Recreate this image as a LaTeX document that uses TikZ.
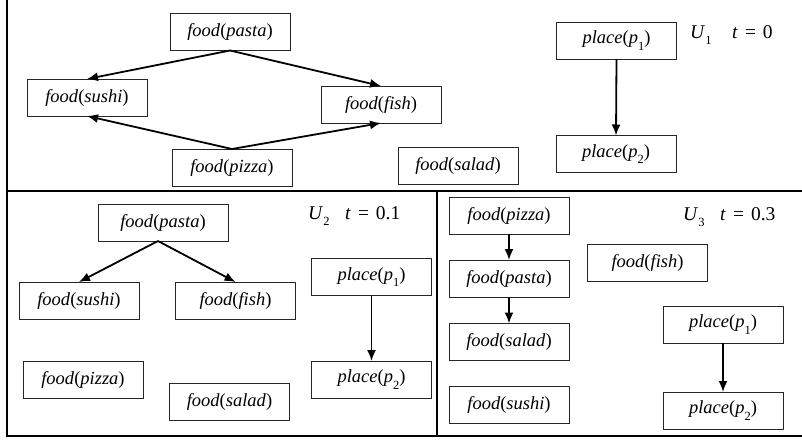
\documentclass[tikz,border=0pt]{standalone}
\usepackage{fontspec}
\setmainfont{Liberation Serif}
\usetikzlibrary{arrows.meta}
\newcommand\fd[1]{\textit{food}(\textit{#1})}
\newcommand\lowsub[1]{\raisebox{-0.75ex}{\fontsize{12.5}{12.5}\selectfont #1}}
\newcommand\pl[1]{\textit{place}(\textit{p}\lowsub{#1})}
\newcommand\tlab[1]{\textit{t}\hspace{7pt}=\hspace{7pt}#1}
\begin{document}
\begin{tikzpicture}[x=1pt,y=-1pt,
  box/.style={draw=black!85,line width=0.9pt,minimum height=37pt,inner sep=0pt,outer sep=0pt,
    font=\fontsize{18.5}{20}\selectfont},
  w120/.style={box,minimum width=120pt},
  w130/.style={box,minimum width=130pt},
  lab/.style={anchor=base west,inner sep=0pt,font=\fontsize{19.5}{21}\selectfont},
  arr/.style={line width=1.8pt,-{Latex[length=11pt,width=9pt]}},
  frame/.style={line width=2pt,black}]
\useasboundingbox (0,0) rectangle (802,442);
% frames
\draw[frame] (7,0) -- (7,436) -- (802,436);
\draw[frame] (7,191) -- (802,191);
\draw[frame] (437,191) -- (437,436);
% U1
\node[w120] (pa1) at (230,32) {\fd{pasta}};
\node[w120] (su1) at (87,97.5) {\fd{sushi}};
\node[w120] (fi1) at (381,104.5) {\fd{fish}};
\node[w120] (pz1) at (232,167.5) {\fd{pizza}};
\node[w120] (sa1) at (458,165.5) {\fd{salad}};
\node[w120] (p11) at (616.5,40.5) {\pl{1}};
\node[w120] (p21) at (616,154) {\pl{2}};
\node[lab] (u1) at (690,38) {\textit{U}\lowsub{1}};
\node[lab] (t1) at (732,38) {\tlab{0}};
\draw[arr] (pa1.south) -- (su1.north);
\draw[arr] (pa1.south) -- (fi1.north);
\draw[arr] (pz1.north) -- (su1.south);
\draw[arr] (pz1.north) -- (fi1.south);
\draw[arr] (p11.south) -- (p21.north);
% U2
\node[w130] (pa2) at (163,222.5) {\fd{pasta}};
\node[w120] (su2) at (79,300.5) {\fd{sushi}};
\node[w120] (fi2) at (235.5,300.5) {\fd{fish}};
\node[w120] (pz2) at (83,379.5) {\fd{pizza}};
\node[w120] (sa2) at (229.5,402) {\fd{salad}};
\node[w120] (p12) at (371.5,277) {\pl{1}};
\node[w120] (p22) at (371.5,379.5) {\pl{2}};
\node[lab] (u2) at (308,219) {\textit{U}\lowsub{2}};
\node[lab] (t2) at (345,219) {\tlab{0.1}};
\draw[arr] ([xshift=-5pt]pa2.south) -- (su2.north);
\draw[arr] ([xshift=-5pt]pa2.south) -- (fi2.north);
\draw[arr] (p12.south) -- (p22.north);
% U3
\node[w120] (pz3) at (509,215.5) {\fd{pizza}};
\node[w120] (pa3) at (509,278.5) {\fd{pasta}};
\node[w120] (sl3) at (509,342) {\fd{salad}};
\node[w120] (su3) at (509,405) {\fd{sushi}};
\node[w120] (fi3) at (647.5,263) {\fd{fish}};
\node[w120] (p13) at (723,324.5) {\pl{1}};
\node[w120] (p23) at (723,410.5) {\pl{2}};
\node[lab] (u3) at (683,220) {\textit{U}\lowsub{3}};
\node[lab] (t3) at (720,220) {\tlab{0.3}};
\draw[arr] (pz3.south) -- (pa3.north);
\draw[arr] (pa3.south) -- (sl3.north);
\draw[arr] (p13.south) -- (p23.north);
\end{tikzpicture}
\end{document}
